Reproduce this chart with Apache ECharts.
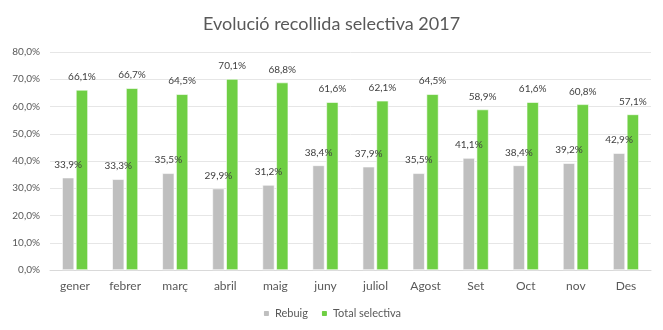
<!DOCTYPE html>
<html>
<head>
<meta charset="utf-8">
<script src="https://cdn.jsdelivr.net/npm/echarts@6/dist/echarts.min.js"></script>
<style>
  html, body { margin: 0; padding: 0; background: #fff; }
  #chart { width: 663px; height: 330px; }
</style>
</head>
<body>
<div id="chart"></div>
<script>
// Monthly shares of waste collection, 2017
const months = ['gener', 'febrer', 'març', 'abril', 'maig', 'juny', 'juliol', 'Agost', 'Set', 'Oct', 'nov', 'Des'];
const rebuig = [33.9, 33.3, 35.5, 29.9, 31.2, 38.4, 37.9, 35.5, 41.1, 38.4, 39.2, 42.9];
const totalSelectiva = [66.1, 66.7, 64.5, 70.1, 68.8, 61.6, 62.1, 64.5, 58.9, 61.6, 60.8, 57.1];
const yTicks = { min: 0, max: 80, interval: 10 };

const fontFamily = 'Lato, "Open Sans", sans-serif';
const pct = v => v.toFixed(1).replace('.', ',') + '%';

const chart = echarts.init(document.getElementById('chart'));
chart.setOption({
  animation: false,
  textStyle: { fontFamily },
  title: {
    text: 'Evolució recollida selectiva 2017',
    left: 'center',
    top: 10,
    textStyle: { fontFamily, fontSize: 18, fontWeight: 'normal', color: '#595959' }
  },
  legend: {
    bottom: 6,
    left: 'center',
    itemWidth: 7,
    itemHeight: 7,
    itemGap: 12,
    textStyle: { fontFamily, fontSize: 11, color: '#595959' },
    data: ['Rebuig', 'Total selectiva']
  },
  grid: { left: 50, right: 12, top: 52, bottom: 60, containLabel: false },
  xAxis: {
    type: 'category',
    data: months,
    axisLine: { lineStyle: { color: '#d9d9d9' } },
    axisTick: { show: false },
    axisLabel: { fontFamily, fontSize: 12, color: '#595959', margin: 10 }
  },
  yAxis: {
    type: 'value',
    min: yTicks.min,
    max: yTicks.max,
    interval: yTicks.interval,
    axisLine: { show: false },
    axisTick: { show: false },
    splitLine: { lineStyle: { color: '#e6e6e6', width: 1 } },
    axisLabel: {
      fontFamily, fontSize: 10, color: '#595959', margin: 10,
      formatter: v => pct(v)
    }
  },
  series: [
    {
      name: 'Rebuig',
      type: 'bar',
      data: rebuig,
      barWidth: 12,
      barGap: '15%',
      itemStyle: { color: '#bfbfbf', borderColor: '#fff', borderWidth: 0.6 },
      label: {
        show: true, position: 'top', distance: 8,
        fontFamily, fontSize: 10, color: '#404040',
        formatter: p => pct(p.value)
      }
    },
    {
      name: 'Total selectiva',
      type: 'bar',
      data: totalSelectiva,
      barWidth: 12,
      itemStyle: { color: '#6fcf44', borderColor: '#fff', borderWidth: 0.6 },
      label: {
        show: true, position: 'top', distance: 8,
        fontFamily, fontSize: 10, color: '#404040',
        formatter: p => pct(p.value)
      }
    }
  ]
});
</script>
</body>
</html>
